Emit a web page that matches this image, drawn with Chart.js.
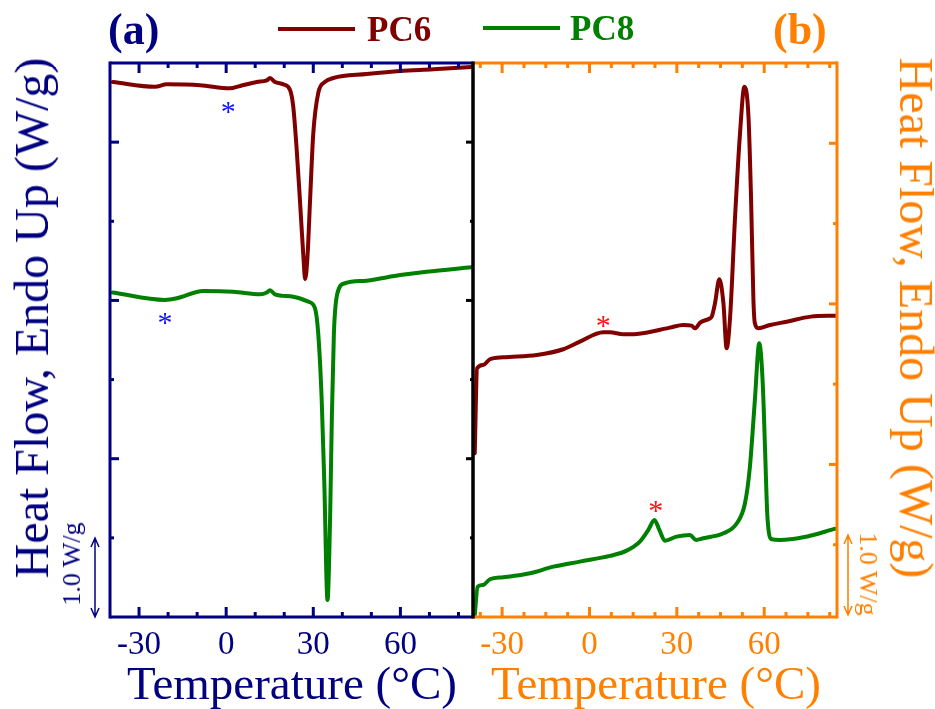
<!DOCTYPE html>
<html>
<head>
<meta charset="utf-8">
<script src="https://cdn.jsdelivr.net/npm/chart.js@4.4.0/dist/chart.umd.min.js"></script>
<style>
html,body{margin:0;padding:0;background:#fff;}
#wrap{position:relative;width:935px;height:709px;overflow:hidden;font-family:"Liberation Serif","Times New Roman",serif;}
canvas{position:absolute;left:0;top:0;}
.t{position:absolute;white-space:nowrap;line-height:1;font-family:"Liberation Serif","Times New Roman",serif;}
.bar{position:absolute;height:4px;}
</style>
</head>
<body>
<div id="wrap">
<canvas id="ca" width="935" height="709"></canvas>
<canvas id="cb" width="935" height="709"></canvas>

<div class="t" style="left:108px;top:8px;font-size:44px;font-weight:bold;color:#000080;">(a)</div>
<div class="t" style="left:773px;top:8px;font-size:44px;font-weight:bold;color:#ff8000;">(b)</div>

<div class="bar" style="left:278px;top:27px;width:77px;background:#800000;"></div>
<div class="t" style="left:367px;top:12px;font-size:35px;font-weight:bold;color:#800000;">PC6</div>
<div class="bar" style="left:483px;top:26px;width:77px;background:#008000;"></div>
<div class="t" style="left:570px;top:11px;font-size:35px;font-weight:bold;color:#008000;">PC8</div>

<div class="t" style="left:32px;top:318px;font-size:48px;color:#000080;transform:translate(-50%,-50%) rotate(-90deg);">Heat Flow, Endo Up (W/g)</div>
<div class="t" style="left:916px;top:318px;font-size:48px;color:#ff8000;transform:translate(-50%,-50%) rotate(90deg);">Heat Flow, Endo Up (W/g)</div>

<div class="t" style="left:72px;top:564px;font-size:26px;color:#000080;transform:translate(-50%,-50%) rotate(-90deg);">1.0 W/g</div>
<div class="t" style="left:868px;top:574px;font-size:26px;color:#ff8000;transform:translate(-50%,-50%) rotate(90deg);">1.0 W/g</div>

<div class="t" style="left:292px;top:660px;font-size:47px;color:#000080;transform:translateX(-50%);">Temperature (°C)</div>
<div class="t" style="left:656px;top:660px;font-size:47px;color:#ff8000;transform:translateX(-50%);">Temperature (°C)</div>
</div>

<script>
// ---------------- data ----------------
// Panel (a): cooling scans (Temperature in °C, heat flow in offset display units)
const aPC6T = [-39, -24.5, -20.5, -9, 1.3, 4.8, 10.5, 14, 15.1, 16.8, 19.7, 22, 23.1, 24.3, 25.4, 26.6, 27.2, 28, 28.9, 30, 31.7, 34, 36.9, 48.4, 59.9, 71.3, 84.5];
const aPC6V = [6.76, 6.70, 6.73, 6.72, 6.68, 6.71, 6.76, 6.78, 6.81, 6.76, 6.73, 6.66, 6.45, 5.90, 5.27, 4.55, 4.27, 4.55, 5.27, 6.11, 6.62, 6.76, 6.81, 6.86, 6.90, 6.92, 6.95];
const aPC8T = [-39, -21.1, -17, -7.9, 2.5, 11.7, 14, 15.1, 16.8, 23.1, 28.3, 30.6, 31.7, 32.9, 33.8, 34.9, 35.8, 36.4, 37.1, 38.3, 40.9, 48.4, 59.9, 69, 84.5];
const aPC8V = [4.10, 4.006, 4.027, 4.12, 4.11, 4.078, 4.10, 4.13, 4.078, 4.047, 3.984, 3.90, 3.585, 2.742, 1.689, 0.215, 1.267, 2.53, 3.585, 4.09, 4.217, 4.25, 4.32, 4.363, 4.42];
// Panel (b): heating scans
const bPC6T = [-39.4, -38.6, -36.5, -34.2, -29.6, -18.1, -9, -3.3, 4.7, 7, 11.6, 16.2, 27.6, 32.2, 35.1, 36.2, 38, 41.4, 42, 43.1, 44.6, 46, 47.1, 48.3, 50, 51.7, 53.2, 54.6, 55.5, 56.3, 56.8, 58, 62, 67.7, 76, 84.5];
const bPC6V = [2.14, 3.198, 3.239, 3.31, 3.335, 3.364, 3.435, 3.529, 3.646, 3.646, 3.621, 3.625, 3.704, 3.737, 3.729, 3.696, 3.766, 3.821, 3.841, 4.007, 4.306, 4.007, 3.447, 3.841, 5.086, 6.125, 6.705, 6.331, 5.294, 4.049, 3.758, 3.696, 3.737, 3.778, 3.841, 3.853];
const bPC8T = [-39.4, -38.4, -36.5, -34.2, -29.6, -20.4, -12.4, -3.3, 7, 12.8, 17.3, 20.2, 22.3, 24, 25.9, 29.9, 34.5, 36.6, 39.1, 46, 50.6, 53.4, 55.1, 56.8, 58.3, 59.5, 60.3, 61.1, 62.6, 65.4, 73.4, 84.5];
const bPC8V = [0.126, 0.478, 0.499, 0.57, 0.595, 0.645, 0.727, 0.79, 0.861, 0.927, 1.039, 1.184, 1.309, 1.184, 1.051, 1.101, 1.122, 1.06, 1.081, 1.143, 1.268, 1.517, 1.973, 2.803, 3.509, 3.011, 2.181, 1.35, 1.068, 1.06, 1.093, 1.2];
// asterisk annotations (T, value)
const aAstT = [0.75, -21.05];
const aAstV = [6.44, 3.774];
const bAstT = [4.75, 22.8];
const bAstV = [3.78, 1.475];
// tick values / labels
const xTickValues = [-30, 0, 30, 60];
const xTickLabels = ['-30', '0', '30', '60'];
const aXMinor = [-20, -10, 10, 20, 40, 50, 70, 80];
const bXMinor = [-37.5, -22.5, -15, -7.5, 7.5, 15, 22.5, 37.5, 45, 52.5, 67.5, 75, 82.5];
const yMajor = [2, 4, 6];
const yMinor = [1, 3, 5];

// ---------------- drawing ----------------
const NAVY = '#000080', ORANGE = '#ff8000', DRED = '#800000', GREEN = '#008000';
const zip = (t, v) => t.map((x, i) => ({x: x, y: v[i]}));
const XH = 40;

function makeFrame(o) {
  return {
    id: 'frame_' + o.key,
    afterDatasetsDraw(chart) {
      const ctx = chart.ctx, sx = chart.scales.x, sy = chart.scales.y;
      ctx.save();
      ctx.lineCap = 'butt';
      const seg = (x1, y1, x2, y2, c, w) => {
        ctx.beginPath(); ctx.strokeStyle = c; ctx.lineWidth = w;
        ctx.moveTo(x1, y1); ctx.lineTo(x2, y2); ctx.stroke();
      };
      const L = o.left, R = o.right, T = 63, B = 617;
      // x ticks (top and bottom, inward)
      xTickValues.forEach(v => { const p = sx.getPixelForValue(v); seg(p, B, p, B - 10, o.color, 3); seg(p, T, p, T + 10, o.color, 3); });
      o.xMinor.forEach(v => { const p = sx.getPixelForValue(v); seg(p, B, p, B - 5, o.color, 3); seg(p, T, p, T + 5, o.color, 3); });
      // y ticks
      yMajor.forEach(v => { const p = sy.getPixelForValue(v);
        if (o.lTick) seg(L, p, L + o.lTick[0], p, o.lCol, 3);
        if (o.rTick) seg(R, p, R - o.rTick[0], p, o.rCol, 3); });
      yMinor.forEach(v => { const p = sy.getPixelForValue(v);
        if (o.lTick) seg(L, p, L + o.lTick[1], p, o.lCol, 3);
        if (o.rTick) seg(R, p, R - o.rTick[1], p, o.rCol, 3); });
      // frame
      seg(L, T, R, T, o.color, 3);
      seg(L, B, R, B, o.color, 3);
      if (o.key === 'a') {
        seg(L, T - 1.5, L, B + 1.5, o.color, 3);
      } else {
        seg(R, T - 1.5, R, B + 1.5, o.color, 3);
        seg(L, T - 1.5, L, B + 1.5, '#000000', 3.5);
      }
      // asterisks
      ctx.font = '30px "Liberation Serif"';
      ctx.fillStyle = o.astColor; ctx.textAlign = 'center'; ctx.textBaseline = 'alphabetic';
      const m = ctx.measureText('*');
      const off = (m.actualBoundingBoxAscent - m.actualBoundingBoxDescent) / 2;
      o.astT.forEach((t, i) => ctx.fillText('*', sx.getPixelForValue(t), sy.getPixelForValue(o.astV[i]) + off));
      // scale arrow (1.0 W/g)
      const ax = o.arrow[0], y1 = o.arrow[1], y2 = o.arrow[2];
      ctx.strokeStyle = o.color; ctx.lineWidth = 1.5;
      ctx.beginPath();
      ctx.moveTo(ax, y1); ctx.lineTo(ax, y2);
      ctx.moveTo(ax - 4, y1 + 9); ctx.lineTo(ax, y1); ctx.lineTo(ax + 4, y1 + 9);
      ctx.moveTo(ax - 4, y2 - 9); ctx.lineTo(ax, y2); ctx.lineTo(ax + 4, y2 - 9);
      ctx.stroke();
      ctx.restore();
    }
  };
}

function makeChart(id, o) {
  const ds = (label, data, color) => ({
    label: label, data: data, borderColor: color, backgroundColor: color,
    borderWidth: 4, pointRadius: 0, fill: false,
    cubicInterpolationMode: 'monotone', borderJoinStyle: 'round', borderCapStyle: 'round'
  });
  return new Chart(document.getElementById(id), {
    type: 'line',
    data: { datasets: [ds('PC6', o.d6, DRED), ds('PC8', o.d8, GREEN)] },
    options: {
      responsive: false, animation: false, devicePixelRatio: 1,
      layout: { padding: { left: o.left, right: 935 - o.right, top: 63, bottom: 709 - 617 - XH } },
      plugins: { legend: { display: false }, tooltip: { enabled: false } },
      scales: {
        x: {
          type: 'linear', min: -40, max: 85, position: 'bottom',
          afterBuildTicks: s => { s.ticks = xTickValues.map(v => ({ value: v })); },
          afterFit: s => { s.height = XH; },
          grid: { display: false, drawTicks: false },
          border: { display: false },
          ticks: {
            color: o.color, padding: 9, autoSkip: false, maxRotation: 0,
            font: { family: 'Liberation Serif', size: 33 },
            callback: v => xTickLabels[xTickValues.indexOf(v)]
          }
        },
        y: { type: 'linear', min: o.ymin, max: 7, display: false }
      }
    },
    plugins: [makeFrame(o)]
  });
}

makeChart('ca', {
  key: 'a', left: 110, right: 473, color: NAVY, ymin: 0,
  d6: zip(aPC6T, aPC6V), d8: zip(aPC8T, aPC8V),
  xMinor: aXMinor, lTick: [9, 4], lCol: NAVY, rTick: [7, 3], rCol: '#000000',
  astT: aAstT, astV: aAstV, astColor: '#1010ff', arrow: [95, 538, 617]
});
makeChart('cb', {
  key: 'b', left: 473, right: 837, color: ORANGE, ymin: 0.1,
  d6: zip(bPC6T, bPC6V), d8: zip(bPC8T, bPC8V),
  xMinor: bXMinor, lTick: null, rTick: [8, 4], rCol: ORANGE,
  astT: bAstT, astV: bAstV, astColor: '#ff1010', arrow: [848, 535, 615]
});
</script>
</body>
</html>
